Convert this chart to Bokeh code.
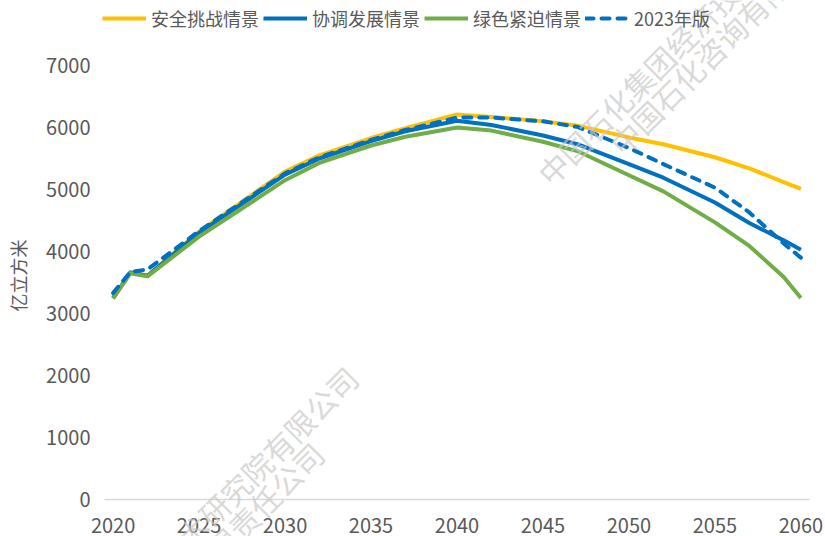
import math
from bokeh.plotting import figure
from bokeh.models import (Range1d, FixedTicker, Legend, LegendItem, Label, ColumnDataSource)
from bokeh.embed import file_html
from bokeh.resources import INLINE

# ---------------- data ----------------
years = [2020, 2021, 2022, 2025, 2030, 2032, 2035, 2037, 2040, 2042, 2045,
         2047, 2050, 2052, 2055, 2057, 2059, 2060]
security = [3250, 3660, 3610, 4320, 5290, 5550, 5830, 5990, 6210, 6170, 6100,
            6030, 5840, 5730, 5520, 5340, 5120, 5010]
coordinated = [3250, 3660, 3610, 4300, 5240, 5500, 5780, 5940, 6110, 6040, 5870,
               5730, 5410, 5190, 4790, 4460, 4180, 4030]
green = [3240, 3650, 3600, 4240, 5150, 5430, 5710, 5850, 6000, 5950, 5770,
         5620, 5230, 4970, 4470, 4090, 3590, 3250]
edition2023 = [3330, 3670, 3710, 4330, 5260, 5520, 5800, 5960, 6160, 6160, 6100,
               6010, 5670, 5410, 5030, 4630, 4130, 3900]

series_names = ["安全挑战情景", "协调发展情景", "绿色紧迫情景", "2023年版"]
x_ticks = [2020, 2025, 2030, 2035, 2040, 2045, 2050, 2055, 2060]
y_ticks = [0, 1000, 2000, 3000, 4000, 5000, 6000, 7000]
y_title = "亿立方米"
watermark1 = "中国石化集团经济技术研究院有限公司"
watermark2 = "中国石化咨询有限责任公司"

# ---------------- layout ----------------
FONT = "Noto Sans CJK SC"
TXT = "#595959"
colors = ["#FFC000", "#0070C0", "#70AD47", "#0070C0"]

W, H = 825, 536
AXIS_X_PX = 104                     # y axis sits 104 px right of the left edge
PX_PER_UNIT = 434 / 7000.0          # 7000 units over 434 px
ZERO_PX_FROM_BOTTOM = 37            # y=0 sits 37 px above the bottom
y_start = -ZERO_PX_FROM_BOTTOM / PX_PER_UNIT
y_end = y_start + H / PX_PER_UNIT
PX_PER_YEAR = 705 / 41.0
x_start = 2019.5 - AXIS_X_PX / PX_PER_YEAR
x_end = x_start + W / PX_PER_YEAR

p = figure(width=W, height=H, output_backend="svg", toolbar_location=None,
           x_range=Range1d(x_start, x_end), y_range=Range1d(y_start, y_end),
           min_border_left=0, min_border_right=0, min_border_top=0,
           min_border_bottom=0)
p.outline_line_color = None
p.xgrid.visible = False
p.ygrid.visible = False
p.background_fill_color = "white"
p.border_fill_color = "white"

src = ColumnDataSource(dict(year=years, s=security, c=coordinated, g=green, e=edition2023))
r1 = p.line("year", "s", source=src, line_color=colors[0], line_width=4, line_join="round")
r2 = p.line("year", "c", source=src, line_color=colors[1], line_width=4, line_join="round")
r3 = p.line("year", "g", source=src, line_color=colors[2], line_width=4, line_join="round")
r4 = p.line("year", "e", source=src, line_color=colors[3], line_width=4, line_join="round",
            line_dash="8 8", line_cap="round")

# axes
p.xaxis.ticker = FixedTicker(ticks=x_ticks)
p.yaxis.ticker = FixedTicker(ticks=y_ticks)
for ax in (p.xaxis, p.yaxis):
    ax.major_tick_line_color = None
    ax.minor_tick_line_color = None
    ax.major_tick_out = 0
    ax.major_tick_in = 0
    ax.major_label_text_font = FONT
    ax.major_label_text_font_size = "20px"
    ax.major_label_text_color = TXT
p.xaxis.fixed_location = 0
p.xaxis.bounds = (2019.5, 2060.5)
p.xaxis.axis_line_color = "#D9D9D9"
p.xaxis.axis_line_width = 1.5
p.xaxis.major_label_standoff = 18
p.yaxis.fixed_location = 2019.5
p.yaxis.bounds = (0, 7230)
p.yaxis.axis_line_color = None
p.yaxis.major_label_standoff = 14
p.yaxis.axis_label = y_title
p.yaxis.axis_label_text_font = FONT
p.yaxis.axis_label_text_font_size = "18px"
p.yaxis.axis_label_text_font_style = "normal"
p.yaxis.axis_label_text_color = TXT
p.yaxis.axis_label_standoff = 12

# legend (location = bottom-left corner, frame screen units)
items = [LegendItem(label=n, renderers=[r]) for n, r in zip(series_names, [r1, r2, r3, r4])]
legend = Legend(items=items, orientation="horizontal", location=(102, H - 31),
                glyph_width=44, glyph_height=22, label_height=22, label_standoff=5,
                spacing=4, padding=0, margin=0, border_line_color=None,
                background_fill_alpha=0, label_text_font=FONT,
                label_text_font_size="18px", label_text_color=TXT)
p.add_layout(legend, "center")

# watermark (screen units relative to the plot frame)
ang = math.pi / 4
for (sx, sy, txt) in [(542, 358, watermark1), (614, 388, watermark2),
                      (-9, -196, watermark1), (63, -166, watermark2)]:
    p.add_layout(Label(x=sx, y=sy, x_units="screen", y_units="screen", text=txt,
                       angle=ang, text_font=FONT, text_font_size="30px",
                       text_color="#c8c8c8", text_alpha=0.7,
                       text_align="left", text_baseline="middle"))

open("out.html", "w").write(file_html(p, INLINE))
